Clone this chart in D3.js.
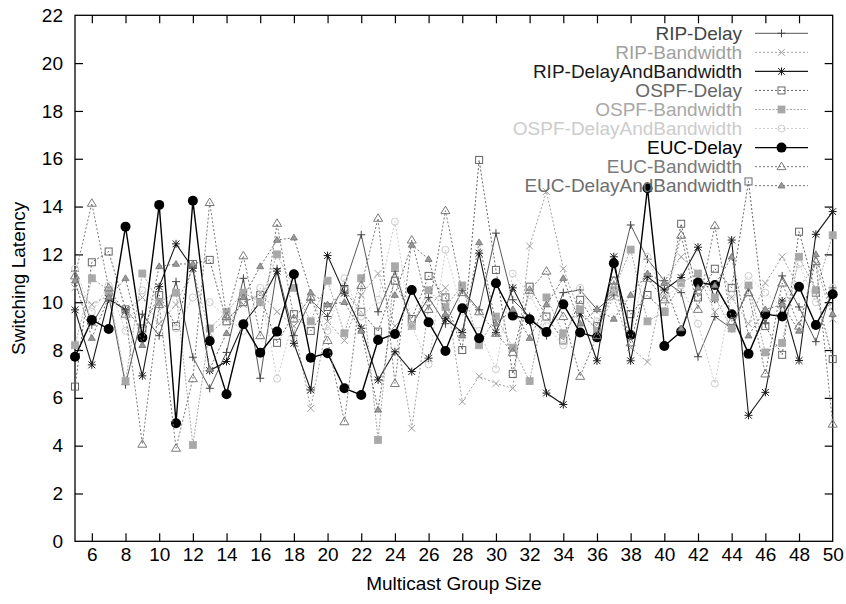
<!DOCTYPE html>
<html>
<head>
<meta charset="utf-8">
<script src="https://cdn.jsdelivr.net/npm/d3@7/dist/d3.min.js"></script>
<style>
  html, body { margin: 0; padding: 0; background: #fff; }
  svg { display: block; }
  text { font-family: "Liberation Sans", Arial, Helvetica, sans-serif; }
</style>
</head>
<body>
<svg id="chart" width="846" height="604"></svg>
<script>
// Multicast group sizes 5..50
const groupSizes = d3.range(5, 51);

const xTicks = d3.range(6, 51, 2);
const yTicks = d3.range(0, 23, 2);

const ripDelay = [11.3, 9.05, 10.3, 6.55, 9.5, 8.6, 10.86, 7.7, 6.4, 7.9, 11.0, 6.82, 11.4, 8.6, 10.1, 9.4,
  10.7, 12.82, 9.6, 11.3, 9.05, 10.2, 9.1, 10.5, 9.68, 12.89, 10.1, 9.4, 8.6, 10.4, 10.51, 9.7,
  10.3, 13.23, 11.8, 10.9, 10.4, 7.72, 9.4, 8.9, 10.6, 9.1, 11.1, 9.8, 8.35, 10.6];

const ripBandwidth = [10.6, 9.9, 10.3, 9.6, 10.2, 9.1, 9.9, 11.4, 8.7, 9.3, 9.9, 10.4, 9.6, 9.0, 5.56, 9.2,
  8.4, 10.3, 11.2, 9.0, 4.73, 9.8, 10.6, 5.84, 6.9, 6.6, 6.4, 12.35, 14.63, 11.4, 9.5, 8.9,
  10.2, 8.1, 7.5, 10.9, 11.9, 11.2, 9.6, 10.2, 9.1, 10.8, 11.9, 10.6, 11.6, 9.3];

const ripDelayAndBandwidth = [9.68, 7.38, 10.14, 9.68, 6.92, 10.65, 12.44, 11.42, 7.14, 7.52, 9.1, 10.0, 11.3, 8.28, 6.33, 11.95,
  10.38, 8.91, 6.75, 7.93, 7.1, 7.66, 9.33, 8.73, 12.05, 8.73, 10.6, 9.2, 6.2, 5.72, 9.54, 7.55,
  11.9, 7.55, 11.07, 10.51, 11.03, 12.3, 10.12, 12.6, 5.27, 6.23, 10.05, 7.56, 12.84, 13.79];

const ospfDelay = [6.47, 11.67, 12.12, 9.7, 8.9, 10.3, 9.0, 11.6, 11.77, 9.2, 10.0, 10.3, 8.3, 9.5, 8.8, 9.8,
  10.5, 9.6, 8.77, 10.9, 9.3, 11.1, 10.2, 8.0, 15.95, 11.35, 7.0, 10.65, 9.4, 8.4, 10.1, 9.0,
  10.9, 9.5, 10.3, 9.6, 13.28, 10.2, 11.4, 10.6, 15.05, 9.0, 7.8, 12.95, 10.4, 7.62];

const ospfBandwidth = [8.2, 11.0, 10.5, 6.7, 11.2, 10.0, 10.4, 4.03, 8.9, 9.6, 10.4, 10.0, 12.0, 10.6, 9.2, 10.9,
  8.7, 11.0, 4.24, 11.5, 9.0, 10.5, 9.8, 10.7, 8.2, 9.4, 8.1, 6.7, 10.2, 8.7, 9.7, 8.8,
  10.5, 12.2, 9.2, 9.6, 10.8, 11.2, 10.2, 8.9, 10.7, 7.9, 8.3, 11.9, 10.5, 12.8];

const ospfDelayAndBandwidth = [11.4, 9.6, 10.7, 8.8, 10.5, 9.9, 8.9, 10.2, 10.0, 9.4, 8.8, 10.6, 6.8, 9.3, 10.2, 8.8,
  11.0, 9.4, 10.1, 13.37, 9.0, 7.4, 12.19, 9.6, 8.8, 7.2, 11.2, 10.3, 9.0, 8.2, 10.6, 9.2,
  10.6, 8.6, 11.9, 10.2, 10.7, 9.1, 6.6, 10.3, 11.1, 10.4, 9.8, 11.6, 10.0, 10.6];

const eucDelay = [7.72, 9.26, 8.88, 13.16, 8.52, 14.07, 4.94, 14.24, 8.38, 6.15, 9.08, 7.89, 8.77, 11.17, 7.68, 7.87,
  6.4, 6.12, 8.42, 8.67, 10.51, 9.16, 7.96, 9.75, 8.49, 10.79, 9.44, 9.29, 8.75, 9.91, 8.73, 8.53,
  11.63, 8.63, 14.77, 8.17, 8.77, 10.82, 10.72, 9.5, 7.84, 9.5, 9.4, 10.65, 9.05, 10.33];

const eucBandwidth = [11.1, 14.14, 10.6, 9.5, 4.06, 9.9, 3.89, 6.8, 14.17, 9.4, 11.94, 8.6, 13.3, 9.3, 10.2, 8.4,
  5.0, 10.7, 13.51, 6.6, 12.6, 9.7, 13.83, 10.4, 9.6, 8.7, 7.9, 10.5, 11.3, 9.4, 6.9, 8.6,
  10.9, 8.3, 11.0, 10.1, 12.8, 9.7, 13.2, 9.2, 10.4, 7.0, 10.8, 9.0, 11.7, 4.9];

const eucDelayAndBandwidth = [10.9, 8.5, 10.2, 11.0, 8.2, 11.5, 11.6, 11.6, 7.2, 8.7, 10.2, 11.5, 12.6, 12.7, 10.4, 9.9,
  10.0, 8.8, 5.5, 10.3, 12.4, 11.8, 9.5, 8.6, 12.5, 9.1, 9.7, 8.5, 9.9, 11.0, 9.1, 9.7,
  9.3, 10.3, 11.2, 10.8, 8.9, 10.6, 10.7, 11.9, 8.6, 9.7, 9.9, 8.8, 12.0, 9.5];

const seriesNames = ["RIP-Delay", "RIP-Bandwidth", "RIP-DelayAndBandwidth", "OSPF-Delay", "OSPF-Bandwidth",
  "OSPF-DelayAndBandwidth", "EUC-Delay", "EUC-Bandwidth", "EUC-DelayAndBandwidth"];
const seriesValues = [ripDelay, ripBandwidth, ripDelayAndBandwidth, ospfDelay, ospfBandwidth,
  ospfDelayAndBandwidth, eucDelay, eucBandwidth, eucDelayAndBandwidth];

// gnuplot-like monochrome styles: colour, dash pattern, line width, point type
const styles = [
  { color: "#444444", dash: null,  width: 0.9, point: "plus" },
  { color: "#a0a0a0", dash: "2,2", width: 1.0, point: "cross" },
  { color: "#1a1a1a", dash: null,  width: 1.1, point: "star" },
  { color: "#666666", dash: "2,2", width: 1.0, point: "box" },
  { color: "#a8a8a8", dash: "2,1.5", width: 1.0, point: "boxfill" },
  { color: "#cccccc", dash: "2,2", width: 1.0, point: "circle" },
  { color: "#000000", dash: null,  width: 1.4, point: "circlefill" },
  { color: "#7a7a7a", dash: "2,2", width: 1.0, point: "tri" },
  { color: "#6e6e6e", dash: "2,2", width: 1.0, point: "trifill" }
];

const svg = d3.select("#chart");
const plotLeft = 75, plotRight = 832.7, plotTop = 15.3, plotBottom = 541.3;

const x = d3.scaleLinear().domain([5, 50]).range([plotLeft, plotRight]);
const y = d3.scaleLinear().domain([0, 22]).range([plotBottom, plotTop]);

// Axes with inward ticks, mirrored on top/right
const fontSize = 19;
const gx = svg.append("g").attr("transform", `translate(0,${plotBottom})`)
  .call(d3.axisBottom(x).tickValues(xTicks).tickSize(-8).tickPadding(6).tickFormat(d3.format("d")));
const gxTop = svg.append("g").attr("transform", `translate(0,${plotTop})`)
  .call(d3.axisTop(x).tickValues(xTicks).tickSize(-8).tickFormat(""));
const gy = svg.append("g").attr("transform", `translate(${plotLeft},0)`)
  .call(d3.axisLeft(y).tickValues(yTicks).tickSize(-8).tickPadding(12).tickFormat(d3.format("d")));
const gyRight = svg.append("g").attr("transform", `translate(${plotRight},0)`)
  .call(d3.axisRight(y).tickValues(yTicks).tickSize(-8).tickFormat(""));

[gx, gxTop, gy, gyRight].forEach(g => {
  g.select(".domain").remove();
  g.selectAll(".tick line").attr("stroke", "#000").attr("stroke-width", 1.2);
  g.selectAll(".tick text").attr("fill", "#000").style("font-size", fontSize + "px")
    .style("font-family", '"Liberation Sans", Arial, sans-serif');
});
// skip the ticks that would fall on the frame corners
gy.selectAll(".tick").filter(d => d === 0 || d === 22).select("line").remove();
gyRight.selectAll(".tick").filter(d => d === 0 || d === 22).select("line").remove();
gx.selectAll(".tick").filter(d => d === 50).select("line").remove();
gxTop.selectAll(".tick").filter(d => d === 50).select("line").remove();

svg.append("rect")
  .attr("x", plotLeft).attr("y", plotTop)
  .attr("width", plotRight - plotLeft).attr("height", plotBottom - plotTop)
  .attr("fill", "none").attr("stroke", "#000").attr("stroke-width", 1.3);

// Axis titles
svg.append("text")
  .attr("x", (plotLeft + plotRight) / 2).attr("y", 590)
  .attr("text-anchor", "middle")
  .style("font-size", fontSize + "px")
  .text("Multicast Group Size");

svg.append("text")
  .attr("transform", `translate(25,${(plotTop + plotBottom) / 2}) rotate(-90)`)
  .attr("text-anchor", "middle")
  .style("font-size", fontSize + "px")
  .text("Switching Latency");

// Point symbols
function drawPoint(g, type, cx, cy, color) {
  const s = 4;
  const stroke = { stroke: color, "stroke-width": 1, fill: "none" };
  const applyAttrs = (sel, attrs) => { Object.entries(attrs).forEach(([k, v]) => sel.attr(k, v)); return sel; };
  if (type === "plus" || type === "star") {
    applyAttrs(g.append("path").attr("d", `M${cx - s},${cy}H${cx + s}M${cx},${cy - s}V${cy + s}`), stroke);
  }
  if (type === "cross" || type === "star") {
    const c = s * 0.85;
    applyAttrs(g.append("path").attr("d", `M${cx - c},${cy - c}L${cx + c},${cy + c}M${cx - c},${cy + c}L${cx + c},${cy - c}`), stroke);
  }
  if (type === "box") {
    applyAttrs(g.append("rect").attr("x", cx - 3.5).attr("y", cy - 3.5).attr("width", 7).attr("height", 7), stroke);
  }
  if (type === "boxfill") {
    g.append("rect").attr("x", cx - 3.5).attr("y", cy - 3.5).attr("width", 7).attr("height", 7)
      .attr("fill", color).attr("stroke", color).attr("stroke-width", 0.8);
  }
  if (type === "circle") {
    applyAttrs(g.append("circle").attr("cx", cx).attr("cy", cy).attr("r", 3.5), stroke);
  }
  if (type === "circlefill") {
    g.append("circle").attr("cx", cx).attr("cy", cy).attr("r", 5).attr("fill", color);
  }
  if (type === "tri") {
    applyAttrs(g.append("path").attr("d", `M${cx},${cy - 4.5}L${cx + 4.5},${cy + 3}L${cx - 4.5},${cy + 3}Z`), stroke);
  }
  if (type === "trifill") {
    g.append("path").attr("d", `M${cx},${cy - 3.5}L${cx + 3.5},${cy + 2.3}L${cx - 3.5},${cy + 2.3}Z`)
      .attr("fill", "#9a9a9a").attr("stroke", color).attr("stroke-width", 0.8);
  }
}

const line = d3.line().x(d => x(d[0])).y(d => y(d[1]));
const plot = svg.append("g");

seriesValues.forEach((vals, i) => {
  const st = styles[i];
  const pts = groupSizes.map((gs, j) => [gs, vals[j]]);
  const g = plot.append("g").attr("class", "series");
  g.append("path").datum(pts)
    .attr("d", line).attr("fill", "none")
    .attr("stroke", st.color).attr("stroke-width", st.width)
    .attr("stroke-dasharray", st.dash);
  pts.forEach(p => drawPoint(g, st.point, x(p[0]), y(p[1]), st.color));
});

// Legend
const legend = svg.append("g");
const legendTextX = 742, legendLineX0 = 755, legendLineX1 = 808, legendY0 = 33.3, legendDy = 19.05;
seriesNames.forEach((name, i) => {
  const st = styles[i];
  const ly = legendY0 + i * legendDy;
  legend.append("text")
    .attr("x", legendTextX).attr("y", ly).attr("dy", "0.35em")
    .attr("text-anchor", "end").attr("fill", st.color)
    .style("font-size", fontSize + "px")
    .text(name);
  legend.append("line")
    .attr("x1", legendLineX0).attr("x2", legendLineX1).attr("y1", ly).attr("y2", ly)
    .attr("stroke", st.color).attr("stroke-width", st.width)
    .attr("stroke-dasharray", st.dash);
  drawPoint(legend, st.point, (legendLineX0 + legendLineX1) / 2, ly, st.color);
});
</script>
</body>
</html>
